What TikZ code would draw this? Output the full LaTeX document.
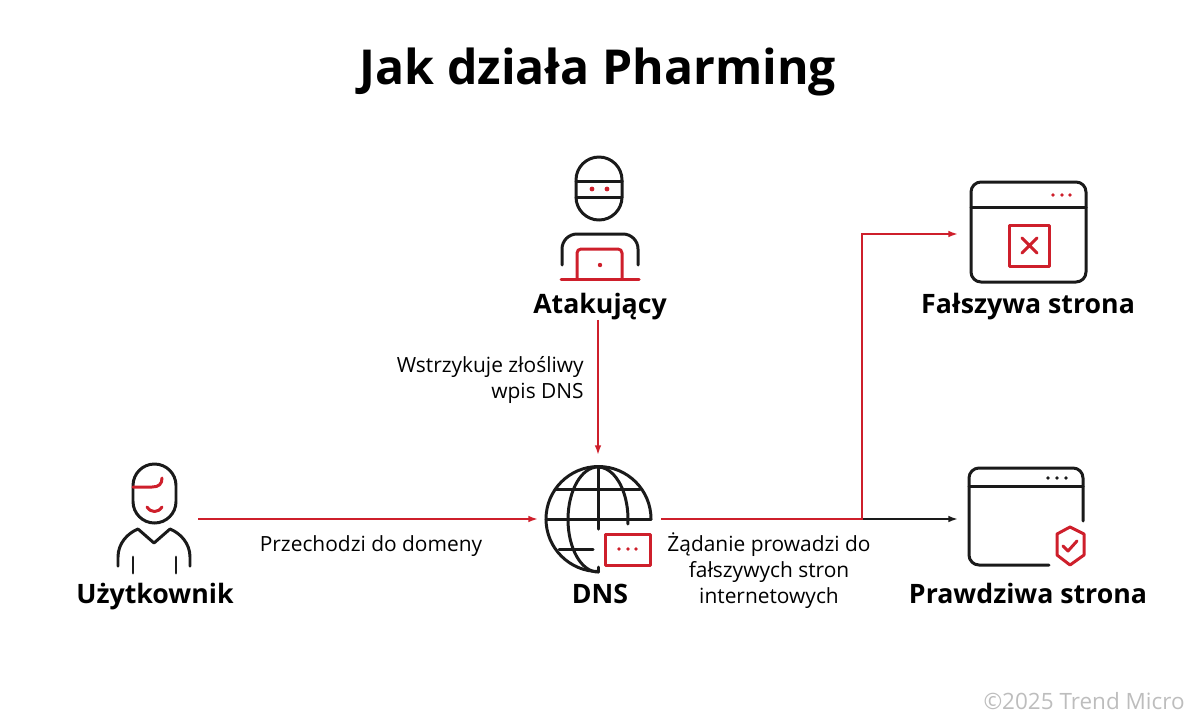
\documentclass[tikz,border=0pt]{standalone}
\usepackage{fontspec}
\usepackage{xcolor}
\setmainfont{Open Sans}
\usetikzlibrary{arrows.meta}
\definecolor{trendred}{HTML}{CE1F2B}
\definecolor{iconblack}{HTML}{1A1A1A}
\definecolor{stamp}{HTML}{BDBDBD}
\newcommand{\titlefont}{\fontsize{27.4}{34}\selectfont\bfseries}
\newcommand{\namefont}{\fontsize{15.2}{18}\selectfont\bfseries}
\newcommand{\notefont}{\fontsize{11.9}{14.8}\selectfont}
\tikzset{
    iconbox/.style={inner sep=0pt, outer sep=0pt},
    iconline/.style={draw=iconblack, line width=1.7pt, line cap=round, line join=round},
    iconred/.style={draw=trendred, line width=1.7pt, line cap=round, line join=round},
    redlink/.style={draw=trendred, line width=1.05pt, -{Latex[length=5.5pt,width=3.8pt]}},
    blacklink/.style={draw=iconblack, line width=1.05pt, -{Latex[length=5.5pt,width=3.8pt]}},
    namelabel/.style={font=\namefont, text=black, inner sep=0pt, anchor=base},
    notelabel/.style={font=\notefont, text=black, inner sep=0pt}
}
\begin{document}
\begin{tikzpicture}[x=0.2mm, y=-0.2mm]
        \useasboundingbox (0,0) rectangle (1200,725);

        \node[font=\titlefont, inner sep=0pt] (title) at (598,72) {Jak działa Pharming};

        % icon boxes, the links end on them
        \node[iconbox, minimum width=18mm, minimum height=22mm] (user) at (153,519) {};
        \node[iconbox, minimum width=24.6mm, minimum height=25.6mm] (dns) at (599.5,519) {};
        \node[iconbox, minimum width=28mm, minimum height=20mm] (fake) at (1028,234) {};
        \node[iconbox, minimum width=27.2mm, minimum height=20mm] (real) at (1026,519) {};
        \coordinate (fork) at (862,519);

        \node[namelabel] (attackername) at (600,313) {Atakujący};
        \node[namelabel] (username) at (155,603) {Użytkownik};
        \node[namelabel] (dnsname) at (600,603) {DNS};
        \node[namelabel] (fakename) at (1028,313) {Fałszywa strona};
        \node[namelabel] (realname) at (1028,603) {Prawdziwa strona};

        \node[notelabel, align=right, anchor=east] (inject) at (584,380) {Wstrzykuje złośliwy\\wpis DNS};
        \node[notelabel] (visit) at (371,546) {Przechodzi do domeny};
        \node[notelabel, align=center] (request) at (769,571) {Żądanie prowadzi do\\fałszywych stron\\internetowych};
        \node[font=\fontsize{12.8}{15}\selectfont, text=stamp, inner sep=0pt, anchor=east] (stampname) at (1185,701) {©2025 Trend Micro};

        % links
        \draw[blacklink] (fork) -- (real.west);
        \draw[redlink] (user.east) -- (dns.west);
        \draw[redlink] (attackername.south -| 598,0) -- (dns.north -| 598,0);
        \draw[redlink] (dns.east) -- (fork) |- (fake.west);

        % attacker
        \draw[iconline, rounded corners=4.6mm] (576,157) rectangle (622,220);
        \draw[iconline] (576,181) -- (622,181) (576,197) -- (622,197);
        \fill[trendred] (592,189) circle (2.4) (607,189) circle (2.4) (600,265) circle (2.2);
        \draw[iconline, rounded corners=3mm] (562,265) -- (562,234) -- (638,234) -- (638,265);
        \draw[iconred, rounded corners=0.8mm] (577,279) -- (577,249) -- (622,249) -- (622,279);
        \draw[iconred] (561,279) -- (639,279);

        % user
        \draw[iconline, rounded corners=4.3mm] (133,464) rectangle (176,523);
        \draw[iconred] (133,487) -- (152,487) .. controls (159,487) and (162,484) .. (162,478);
        \draw[iconred] (147,507) .. controls (151,513) and (158,513) .. (162,507);
        \draw[iconline] (118,566) -- (118,557) .. controls (118,543) and (128,533) .. (138,529)
            -- (154,543) -- (170,529) .. controls (180,533) and (190,543) .. (190,557) -- (190,566);
        \draw[iconline] (133,557) -- (133,573) (176,557) -- (176,573);

        % globe
        \draw[iconline] (651,519) arc[start angle=0, end angle=-270, radius=52.5];
        \draw[iconline] (598,572) arc[start angle=-270, end angle=-90, x radius=30, y radius=52.5];
        \draw[iconline] (598,467) arc[start angle=-90, end angle=5, x radius=30, y radius=52.5];
        \draw[iconline] (598,467) -- (598,529) (598,567) -- (598,572);
        \draw[iconline] (546,519) -- (651,519) (556,489) -- (640,489) (559,549) -- (593,549);
        \draw[iconred] (605,534) rectangle (650,565);
        \fill[trendred] (619,549) circle (1.8) (628,549) circle (1.8) (636,549) circle (1.8);

        % fake site
        \draw[iconline, rounded corners=2mm] (971,182) rectangle (1086,282);
        \draw[iconline] (971,207) -- (1086,207);
        \fill[trendred] (1053,195) circle (1.8) (1062,195) circle (1.8) (1070,195) circle (1.8);
        \draw[iconred] (1009,225) rectangle (1049,266);
        \draw[iconred] (1022,238) -- (1037,253) (1037,238) -- (1022,253);

        % real site
        \draw[iconline, rounded corners=2mm] (1083,521) -- (1083,468) -- (969,468) -- (969,565) -- (1049,565);
        \draw[iconline] (969,486) -- (1083,486);
        \fill[iconblack] (1048,478) circle (1.8) (1057,478) circle (1.8) (1066,478) circle (1.8);
        \draw[iconred] (1070,527) -- (1084,534) -- (1084,555) -- (1070,565) -- (1057,555) -- (1057,534) -- cycle;
        \draw[iconred] (1063,546) -- (1068,551) -- (1077,541);
\end{tikzpicture}
\end{document}
